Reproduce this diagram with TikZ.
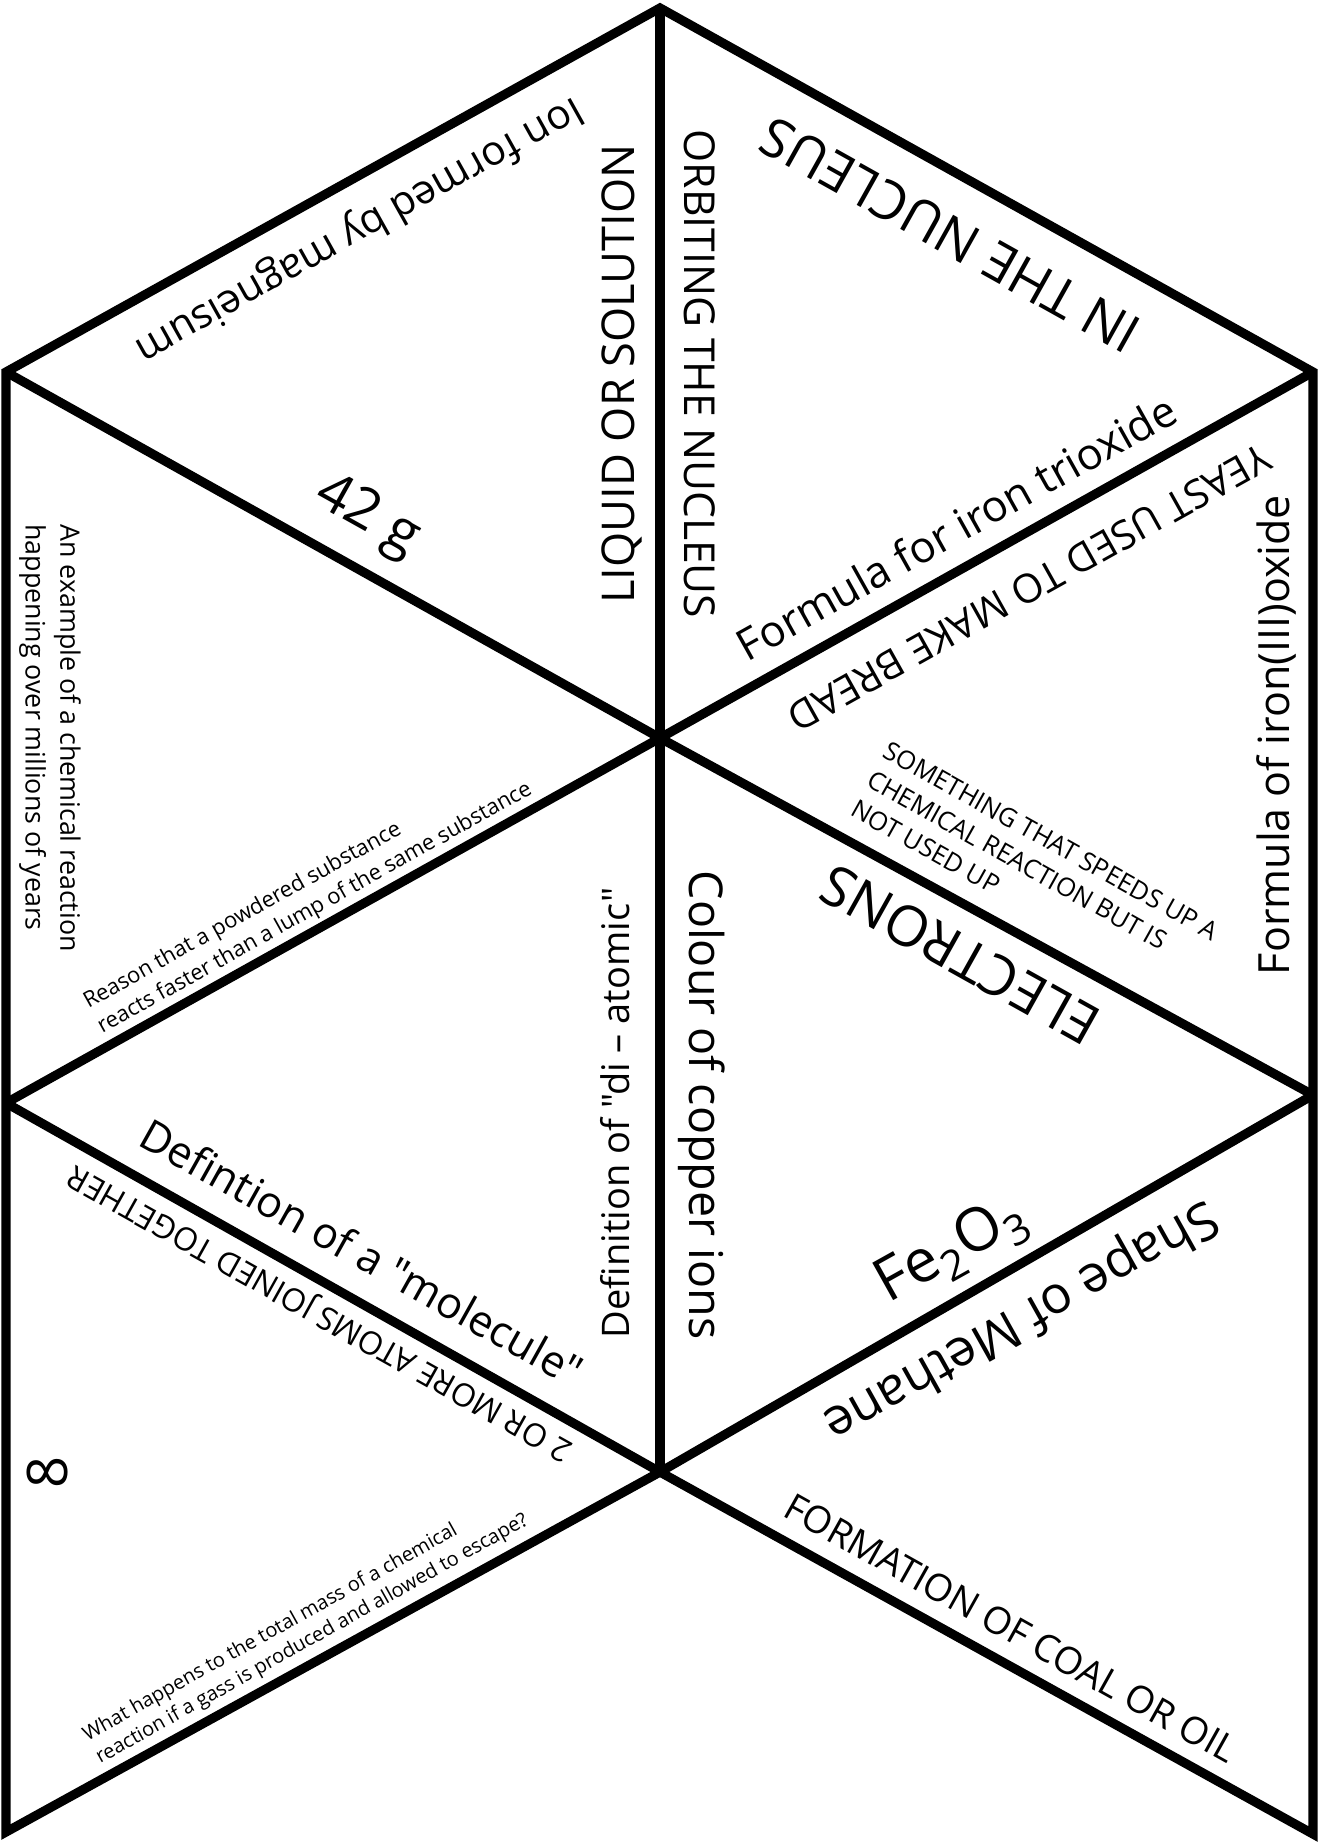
\documentclass[tikz,border=0pt]{standalone}
\usepackage{fontspec}
\setmainfont{Open Sans}[Ligatures=TeXOff]
\newcommand{\fs}[1]{\fontsize{#1}{1.3\dimexpr #1pt\relax}\selectfont}
\begin{document}
\begin{tikzpicture}[x=0.5pt,y=-0.5pt,
  edge/.style={line width=4.6pt,line join=miter,line cap=butt},
  lbl/.style={inner sep=0pt,text=black}]
\useasboundingbox (0,0) rectangle (1318,1843);
% vertices
\coordinate (T)  at (660,8);
\coordinate (UL) at (6,372);
\coordinate (UR) at (1313,372);
\coordinate (C)  at (660,738);
\coordinate (ML) at (6,1103);
\coordinate (MR) at (1313,1095);
\coordinate (LC) at (660,1472);
\coordinate (BL) at (6,1832);
\coordinate (BR) at (1313,1834);
% outline
\draw[edge] (T) -- (UR) -- (BR) -- (LC) -- (BL) -- (UL) -- cycle;
% inner lines
\draw[edge] (T) -- (LC);
\draw[edge] (UL) -- (C) -- (UR);
\draw[edge] (ML) -- (C) -- (MR);
\draw[edge] (ML) -- (LC) -- (MR);
% texts
\node[lbl,rotate=-150.8,font=\fs{20.5}] (t1) at (359,229) {Ion formed by magneisum};
\node[lbl,rotate=90,font=\fs{22.6}] (t2) at (622,374) {LIQUID OR SOLUTION};
\node[lbl,rotate=-90,font=\fs{21.3}] (t3) at (700,374) {ORBITING THE NUCLEUS};
\node[lbl,rotate=150.8,font=\fs{27}] (t4) at (950,235) {IN THE NUCLEUS};
\node[lbl,rotate=29.2,font=\fs{21.7}] (t5) at (956,527) {Formula for iron trioxide};
\node[lbl,rotate=-150.8,font=\fs{20}] (t6) at (1029,588) {YEAST USED TO MAKE BREAD};
\node[lbl,rotate=90,font=\fs{21.5}] (t7) at (1276,735) {Formula of iron(III)oxide};
\node[lbl,rotate=-29.2,font=\fs{28}] (t8) at (367,517) {42 g};
\node[lbl,rotate=-90,align=left,font=\fs{13.4}] (t9) at (50,738) {An example of a chemical reaction\\happening over millions of years};
\node[lbl,rotate=29.2,align=left,font=\fs{11}] (t10) at (308,896) {Reason that a powdered substance\\reacts faster than a lump of the same substance};
\node[lbl,rotate=90,font=\fs{19}] (t11) at (615,1113) {Definition of "di – atomic"};
\node[lbl,rotate=-90,font=\fs{23.3}] (t12) at (702,1105) {Colour of copper ions};
\node[lbl,rotate=-29.2,align=left,font=\fs{12.8}] (t13) at (1035,870) {SOMETHING THAT SPEEDS UP A\\CHEMICAL REACTION BUT IS\\NOT USED UP};
\node[lbl,rotate=150.8,font=\fs{28}] (t14) at (960,955) {ELECTRONS};
\node[lbl,rotate=29.2,font=\fs{30}] (t15) at (952,1251) {Fe\textsubscript{2}O\textsubscript{3}};
\node[lbl,rotate=-150.8,font=\fs{26}] (t16) at (1020,1319) {Shape of Methane};
\node[lbl,rotate=-29.2,font=\fs{18.8}] (t17) at (1011,1628) {FORMATION OF COAL OR OIL};
\node[lbl,rotate=-29.2,font=\fs{21.5}] (t18) at (362,1252) {Defintion of a "molecule"};
\node[lbl,rotate=150.8,font=\fs{16}] (t19) at (321,1312) {2 OR MORE ATOMS JOINED TOGETHER};
\node[lbl,rotate=90,font=\fs{28}] (t20) at (47,1472) {8};
\node[lbl,rotate=29.2,align=left,font=\fs{10}] (t21) at (306,1628) {What happens to the total mass of a chemical\\reaction if a gass is produced and allowed to escape?};
\end{tikzpicture}
\end{document}
